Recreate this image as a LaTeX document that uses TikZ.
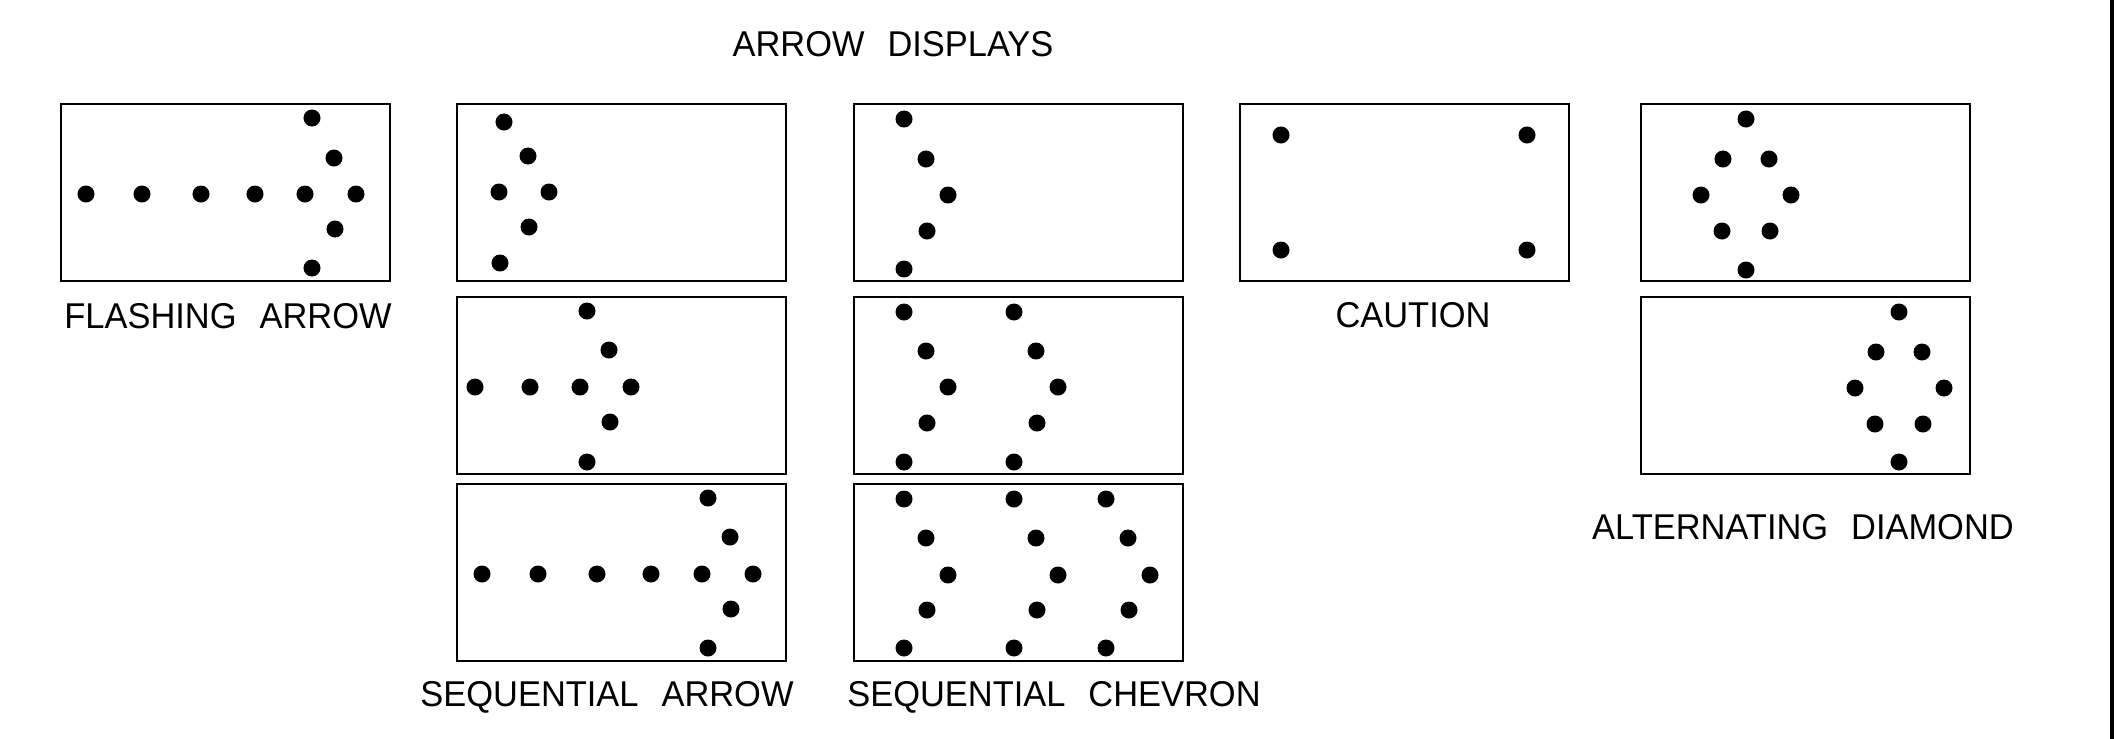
\documentclass[tikz,border=0pt]{standalone}
\usepackage{fontspec}
\setmainfont{Liberation Sans}[WordSpace = 2.4, FakeStretch = 0.96]
\begin{document}
\begin{tikzpicture}[x = 0.01cm, y = -0.01cm, line width = 0.7pt,
                        lamp/.style = {circle, fill = black, inner sep = 0pt, minimum size = 0.17cm},
                        panel/.style = {rectangle, draw, inner sep = 0pt, minimum width = 3.29cm, minimum height = 1.77cm},
                        caption/.style = {anchor = base, inner sep = 0pt, font = \fontsize{10.2}{12}\selectfont}]
      \useasboundingbox (0, 0) rectangle (2123, 739);
      \coordinate (edgetop) at (2112, 0);
      \coordinate (edgebot) at (2112, 739);
      \draw [line width = 1.2pt] (edgetop) -- (edgebot);

      \node [caption] (title) at (893, 56){ARROW DISPLAYS};

      % flashing arrow
      \node [panel] (flash) at (225.5, 192.5){};
      \foreach \x [count = \i] in {86, 142, 201, 255, 305, 356}
        \node [lamp] (fa\i) at (\x, 194){};
      \foreach \x/\y [count = \i] in {312/118, 334/158, 335/229, 312/268}
        \node [lamp] (fh\i) at (\x, \y){};
      \node [caption] (flashlbl) at (228, 328){FLASHING ARROW};

      % sequential arrow
      \node [panel] (seqa) at (621.5, 192.5){};
      \node [panel] (seqb) at (621.5, 385.5){};
      \node [panel] (seqc) at (621.5, 572.5){};
      \foreach \x/\y [count = \i] in {504/122, 528/156, 499/192, 549/192, 529/227, 500/263}
        \node [lamp] (sa\i) at (\x, \y){};
      \foreach \x/\y [count = \i] in {587/311, 609/350, 475/387, 530/387, 580/387, 631/387, 610/422, 587/462}
        \node [lamp] (sb\i) at (\x, \y){};
      \foreach \x/\y [count = \i] in {482/574, 538/574, 597/574, 651/574, 702/574, 753/574,
                                      708/498, 730/537, 731/609, 708/648}
        \node [lamp] (sc\i) at (\x, \y){};
      \node [caption] (seqlbl) at (607, 706){SEQUENTIAL ARROW};

      % sequential chevron
      \node [panel] (chva) at (1018.5, 192.5){};
      \node [panel] (chvb) at (1018.5, 385.5){};
      \node [panel] (chvc) at (1018.5, 572.5){};
      \foreach \dx/\y [count = \i] in {0/119, 22/159, 44/195, 23/231, 0/269}
        \node [lamp] (ca\i) at (904 + \dx, \y){};
      \foreach \cx [count = \j] in {904, 1014}
        \foreach \dx/\y [count = \i] in {0/312, 22/351, 44/387, 23/423, 0/462}
          \node [lamp] (cb\j\i) at (\cx + \dx, \y){};
      \foreach \cx [count = \j] in {904, 1014, 1106}
        \foreach \dx/\y [count = \i] in {0/499, 22/538, 44/575, 23/610, 0/648}
          \node [lamp] (cc\j\i) at (\cx + \dx, \y){};
      \node [caption] (chvlbl) at (1054, 706){SEQUENTIAL CHEVRON};

      % caution
      \node [panel] (caut) at (1404.5, 192.5){};
      \node [lamp] (ct1) at (1281, 135){};
      \node [lamp] (ct2) at (1527, 135){};
      \node [lamp] (ct3) at (1281, 250){};
      \node [lamp] (ct4) at (1527, 250){};
      \node [caption] (cautlbl) at (1413, 327){CAUTION};

      % alternating diamond
      \node [panel] (diaa) at (1805.5, 192.5){};
      \node [panel] (diab) at (1805.5, 385.5){};
      \foreach \x/\y [count = \i] in {1746/119, 1723/159, 1769/159, 1701/195, 1791/195, 1722/231, 1770/231, 1746/270}
        \node [lamp] (da\i) at (\x, \y){};
      \foreach \x/\y [count = \i] in {1899/312, 1876/352, 1922/352, 1855/388, 1944/388, 1875/424, 1923/424, 1899/462}
        \node [lamp] (db\i) at (\x, \y){};
      \node [caption] (dialbl) at (1803, 539){ALTERNATING DIAMOND};
    \end{tikzpicture}
\end{document}
